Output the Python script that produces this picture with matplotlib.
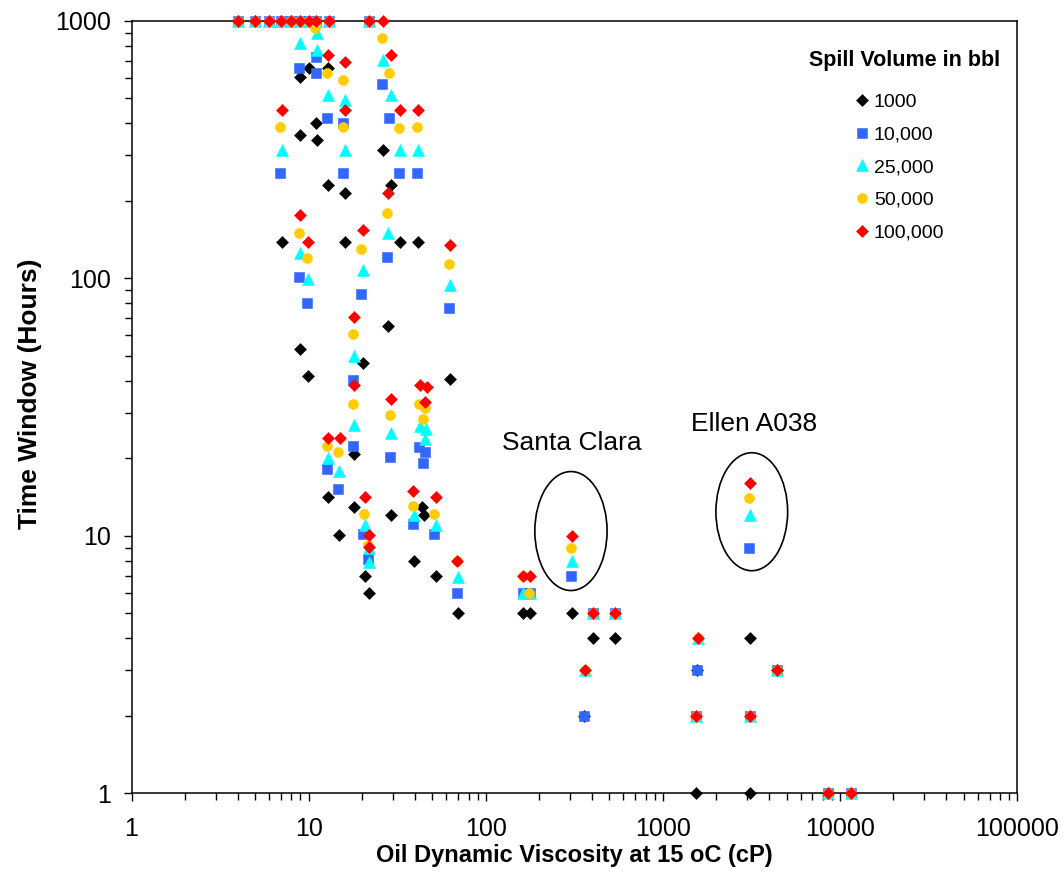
import matplotlib
matplotlib.use('Agg')
import matplotlib.pyplot as plt
from matplotlib.patches import Ellipse
from matplotlib.ticker import LogLocator, NullFormatter, FixedLocator, FixedFormatter

plt.rcParams['font.family'] = ['Liberation Sans', 'DejaVu Sans']

# ---------------- data ----------------
series_labels = ['1000', '10,000', '25,000', '50,000', '100,000']
series_colors = ['#000000', '#3366FF', '#00FFFF', '#FFCC00', '#FF0000']
series_markers = ['D', 's', '^', 'o', 'D']

top_x = [4, 5, 6, 7, 8, 9, 10, 11, 13, 22]
top_y = [1000] * 10

x_1000 = [4, 5, 6, 7, 8, 10.1, 9.0, 12.9, 11.0, 9.0, 11.2, 12.9, 16.1, 26.4, 29.3, 7.1,
          9.0, 9.9, 16.1, 20.3, 28.1, 32.9, 41.6, 63, 18.1, 12.9, 14.9, 18.1, 20.9, 22.0,
          29.3, 43.8, 44.9, 39.4, 52.5, 69.9, 163, 178, 308, 360, 405, 540, 1565, 1545,
          3122, 3122, 4436, 8600, 11610]
y_1000 = [1000, 1000, 1000, 1000, 1000, 656, 605, 656, 401, 360, 344, 230, 214, 315, 230, 138,
          53, 41.6, 138, 46.8, 65.3, 138, 138, 40.8, 20.8, 14.1, 10.1, 12.9, 7, 6,
          12, 12.9, 12, 8, 7, 5, 5, 5, 5, 2, 4, 4, 3, 1,
          4, 1, 3, 1, 1]

x_10000 = top_x + [8.84, 11.0, 11.0, 12.7, 15.7, 15.7, 6.9, 26.0, 28.5, 32.5, 41.0, 8.84, 9.8,
                   19.8, 17.8, 27.8, 62.2, 17.8, 28.9, 42.1, 45.5, 44.4, 12.7, 14.7, 20.3, 21.7,
                   38.9, 51.2, 69, 304, 163, 178, 360, 405, 540, 1565, 1545, 3122, 3077, 4436,
                   8600, 11610]
y_10000 = top_y + [656, 628, 724, 419, 401, 256, 256, 569, 419, 256, 256, 101, 80,
                   87, 40.1, 121, 77, 22.3, 20.2, 22.1, 21.2, 19.2, 18.2, 15.2, 10.2, 8.1,
                   11.1, 10.2, 6, 7, 6, 6, 2, 5, 5, 3, 2, 2, 9, 3,
                   1, 1]

x_25000 = top_x + [8.95, 11.2, 11.2, 12.9, 16.1, 16.1, 7.1, 26.4, 29.3, 32.9, 41.6, 8.95, 9.9,
                   20.3, 18.1, 28.1, 63, 18.1, 29.3, 42.7, 46.1, 45.5, 12.9, 14.9, 20.9, 22.0,
                   22.0, 39.4, 52.5, 69.9, 308, 163, 178, 365, 405, 540, 1585, 1545, 3122, 3122,
                   4436, 8600, 11610]
y_25000 = top_y + [820, 897, 770, 516, 493, 315, 315, 705, 516, 315, 315, 125, 99.4,
                   108, 49.8, 150, 94, 26.9, 25.1, 26.7, 26.0, 23.8, 20.0, 17.9, 11.0, 9.0,
                   7.9, 12.0, 11.0, 6.9, 8, 6, 6, 3, 5, 5, 4, 2, 2, 12,
                   3, 1, 1]

x_50000 = top_x + [10.9, 12.7, 15.7, 15.7, 6.9, 26.0, 28.5, 32.5, 41.0, 8.84, 9.8, 19.8, 17.8,
                   27.8, 62.2, 17.8, 28.9, 42.1, 45.5, 44.4, 12.7, 14.7, 20.6, 21.7, 38.9, 51.2,
                   69, 304, 163, 176, 365, 405, 540, 1585, 1545, 3122, 3077, 4436, 8600, 11610]
y_50000 = top_y + [938, 628, 589, 387, 387, 858, 628, 383, 387, 150, 120, 130, 60.8,
                   179, 114, 32.5, 29.5, 32.5, 31.4, 28.4, 22.3, 21.2, 12.2, 9.2, 13.1, 12.2,
                   8, 9, 7, 6, 3, 5, 5, 4, 2, 2, 14, 3, 1, 1]

x_100000 = top_x + [26.4, 12.9, 16.1, 16.1, 7.1, 29.3, 32.9, 41.6, 28.1, 8.95, 9.9, 20.3, 18.1,
                    18.1, 63, 42.7, 46.7, 29.3, 45.5, 12.9, 15.1, 20.9, 22.0, 22.0, 38.9, 52.5,
                    69, 308, 163, 178, 365, 405, 540, 1585, 1545, 3122, 3122, 4436, 8600, 11610]
y_100000 = top_y + [1000, 736, 692, 450, 450, 736, 450, 450, 214, 176, 138, 154, 70.8,
                    38.5, 135, 38.5, 37.9, 34.0, 33.1, 24.0, 24.0, 14.1, 10.1, 9.05, 14.9, 14.1,
                    8, 10, 7, 7, 3, 5, 5, 4, 2, 2, 16, 3, 1, 1]

xs = [x_1000, x_10000, x_25000, x_50000, x_100000]
ys = [y_1000, y_10000, y_25000, y_50000, y_100000]
marker_sizes = [5.9, 7.0, 8.0, 7.2, 5.9]

x_ticks = [1, 10, 100, 1000, 10000, 100000]
x_tick_labels = ['1', '10', '100', '1000', '10000', '100000']
y_ticks = [1, 10, 100, 1000]
y_tick_labels = ['1', '10', '100', '1000']

# ---------------- figure ----------------
fig = plt.figure(figsize=(10.64, 8.94), dpi=100)
ax = fig.add_axes([0.1236, 0.1126, 0.8322, 0.8642])
ax.set_xscale('log')
ax.set_yscale('log')
ax.set_xlim(1, 100000)
ax.set_ylim(1, 1000)

for x, y, c, m, ms, lab in zip(xs, ys, series_colors, series_markers, marker_sizes, series_labels):
    ax.plot(x, y, linestyle='none', marker=m, markersize=ms, color=c,
            markeredgecolor=c, markeredgewidth=0.4, label=lab, clip_on=False, zorder=3)

ax.xaxis.set_major_locator(FixedLocator(x_ticks))
ax.xaxis.set_major_formatter(FixedFormatter(x_tick_labels))
ax.yaxis.set_major_locator(FixedLocator(y_ticks))
ax.yaxis.set_major_formatter(FixedFormatter(y_tick_labels))
ax.xaxis.set_minor_locator(LogLocator(base=10, subs=range(2, 10), numticks=20))
ax.yaxis.set_minor_locator(LogLocator(base=10, subs=range(2, 10), numticks=20))
ax.xaxis.set_minor_formatter(NullFormatter())
ax.yaxis.set_minor_formatter(NullFormatter())

ax.tick_params(which='both', direction='out', top=False, right=False, width=1.0, color='black')
ax.tick_params(which='major', length=6)
ax.tick_params(which='minor', length=5)
ax.tick_params(axis='x', which='major', labelsize=18, pad=11)
ax.tick_params(axis='y', which='major', labelsize=18, pad=9)
for s in ax.spines.values():
    s.set_linewidth(1.1)
    s.set_color('black')

ax.set_xlabel('Oil Dynamic Viscosity at 15 oC (cP)', fontsize=17, fontweight='bold', labelpad=2.5)
ax.set_ylabel('Time Window (Hours)', fontsize=19, fontweight='bold')
ax.yaxis.set_label_coords(-0.101, 0.517)

# annotations
ax.add_patch(Ellipse((0.4963, 0.3395), 0.0816, 0.154, transform=ax.transAxes,
                     fill=False, edgecolor='black', linewidth=1.2, zorder=4, clip_on=False))
ax.add_patch(Ellipse((0.7005, 0.3645), 0.081, 0.1527, transform=ax.transAxes,
                     fill=False, edgecolor='black', linewidth=1.2, zorder=4, clip_on=False))
ax.text(0.4978, 0.4534, 'Santa Clara', transform=ax.transAxes, ha='center', va='center', fontsize=19)
ax.text(0.703, 0.478, 'Ellen A038', transform=ax.transAxes, ha='center', va='center', fontsize=19)

# legend
ax.text(0.8735, 0.9491, 'Spill Volume in bbl', transform=ax.transAxes, ha='center', va='center',
        fontsize=15.5, fontweight='bold')
ax.legend(loc='upper left', bbox_to_anchor=(0.8073, 0.9165), frameon=False, fontsize=14,
          handlelength=0.8, handletextpad=0.22, labelspacing=0.78, borderaxespad=0, numpoints=1)

fig.savefig('out.png', dpi=100)
